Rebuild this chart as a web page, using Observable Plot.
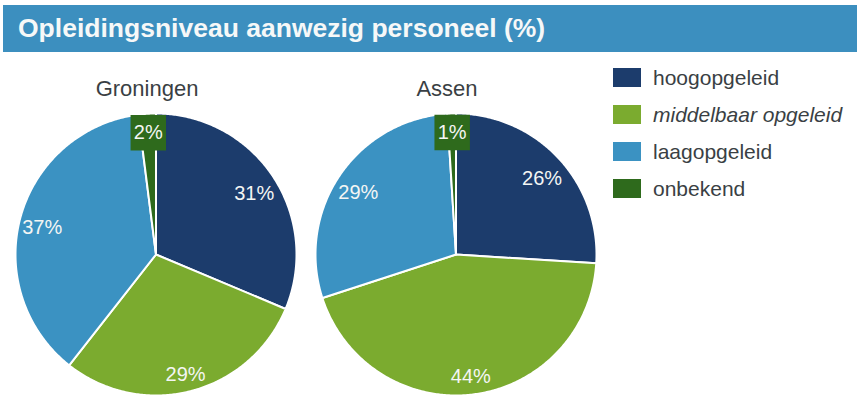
<!DOCTYPE html>
<html>
<head>
<meta charset="utf-8">
<script src="https://cdn.jsdelivr.net/npm/d3@7"></script>
<script src="https://cdn.jsdelivr.net/npm/@observablehq/plot@0.6"></script>
<style>
  html, body { margin: 0; padding: 0; background: #fff; }
  body { width: 857px; height: 405px; position: relative; overflow: hidden; font-family: "Liberation Sans", Arial, sans-serif; }
  #banner { position: absolute; left: 3px; top: 5px; width: 854px; height: 47px; background: #3c8fbf; color: #f6f8f8; font-weight: bold; font-size: 26.5px; line-height: 47px; padding-left: 15px; box-sizing: border-box; white-space: nowrap; }
  #chart { position: absolute; left: 0; top: 0; }
  #legend { position: absolute; left: 613px; top: 59px; }
  .item { display: flex; align-items: center; height: 37px; font-size: 21px; color: #3a3f44; }
  .sw { width: 28px; height: 19px; margin-right: 12px; }
</style>
</head>
<body>
<div id="chart"></div>
<div id="banner"></div>
<div id="legend"></div>
<script>
const titleText = "Opleidingsniveau aanwezig personeel (%)";
const categories = ["hoogopgeleid", "middelbaar opgeleid", "laagopgeleid", "onbekend"];
const cities = ["Groningen", "Assen"];
const groningen = [31, 29, 37, 2];
const assen = [26, 44, 29, 1];
const colors = ["#1c3c6c", "#7bab2f", "#3b92c2", "#2e6a1c"];
const italicCategory = ["middelbaar opgeleid"];

document.getElementById("banner").textContent = titleText;

// legend
const legend = document.getElementById("legend");
categories.forEach((c, i) => {
  const item = document.createElement("div");
  item.className = "item";
  const sw = document.createElement("div");
  sw.className = "sw";
  sw.style.background = colors[i];
  const t = document.createElement("span");
  t.textContent = c;
  if (italicCategory.includes(c)) t.style.fontStyle = "italic";
  item.append(sw, t);
  legend.append(item);
});

// pie geometry from data
const pie = d3.pie().sort(null).value(d => d.value);
const series = { Groningen: groningen, Assen: assen };
const slices = [];
const outline = [];
for (const city of cities) {
  const rows = categories.map((cat, i) => ({ city, cat, value: series[city][i] }));
  for (const a of pie(rows)) {
    const s = { city, cat: a.data.cat, value: a.data.value, start: a.startAngle, end: a.endAngle, mid: (a.startAngle + a.endAngle) / 2 };
    slices.push(s);
    const key = city + "|" + s.cat;
    outline.push({ key, city, cat: s.cat, x: 0, y: 0 });
    const n = Math.max(2, Math.ceil((s.end - s.start) / 0.01));
    for (let k = 0; k <= n; k++) {
      const ang = s.start + (s.end - s.start) * k / n;
      outline.push({ key, city, cat: s.cat, x: Math.sin(ang), y: Math.cos(ang) });
    }
  }
}
const labelR = 0.84;
const smallR = labelR * 1.03;
const small = slices.filter(d => d.value < 5);
const big = slices.filter(d => d.value >= 5);

const chart = Plot.plot({
  width: 857,
  height: 405,
  marginTop: 113,
  marginBottom: 10,
  marginLeft: 14,
  marginRight: 260,
  style: { fontFamily: "Liberation Sans, Arial, sans-serif", background: "transparent" },
  x: { domain: [-1, 1], axis: null },
  y: { domain: [-1, 1], axis: null },
  fx: { domain: cities, paddingInner: 0.063, paddingOuter: 0, axis: null },
  color: { domain: categories, range: colors },
  marks: [
    Plot.line(outline, { fx: "city", x: "x", y: "y", z: "key", fill: "cat", stroke: "white", strokeWidth: 2, curve: "linear-closed", strokeLinejoin: "round" }),
    Plot.dot(small, { fx: "city", x: d => smallR * Math.sin(d.mid), y: d => smallR * Math.cos(d.mid), symbol: "square", r: 20, fill: "cat", stroke: "none" }),
    Plot.text(small, { fx: "city", x: d => smallR * Math.sin(d.mid), y: d => smallR * Math.cos(d.mid), text: d => d.value + "%", fill: "#f4f6f4", fontSize: 20 }),
    Plot.text(big, { fx: "city", x: d => labelR * Math.sin(d.mid), y: d => labelR * Math.cos(d.mid), dy: 5, text: d => d.value + "%", fill: "#f4f6f4", fontSize: 20 }),
    Plot.text(cities, { fx: d => d, text: d => d, frameAnchor: "top", dy: -33, dx: -9, fontSize: 22, fill: "#3a3f44" })
  ]
});
document.getElementById("chart").append(chart);
</script>
</body>
</html>
